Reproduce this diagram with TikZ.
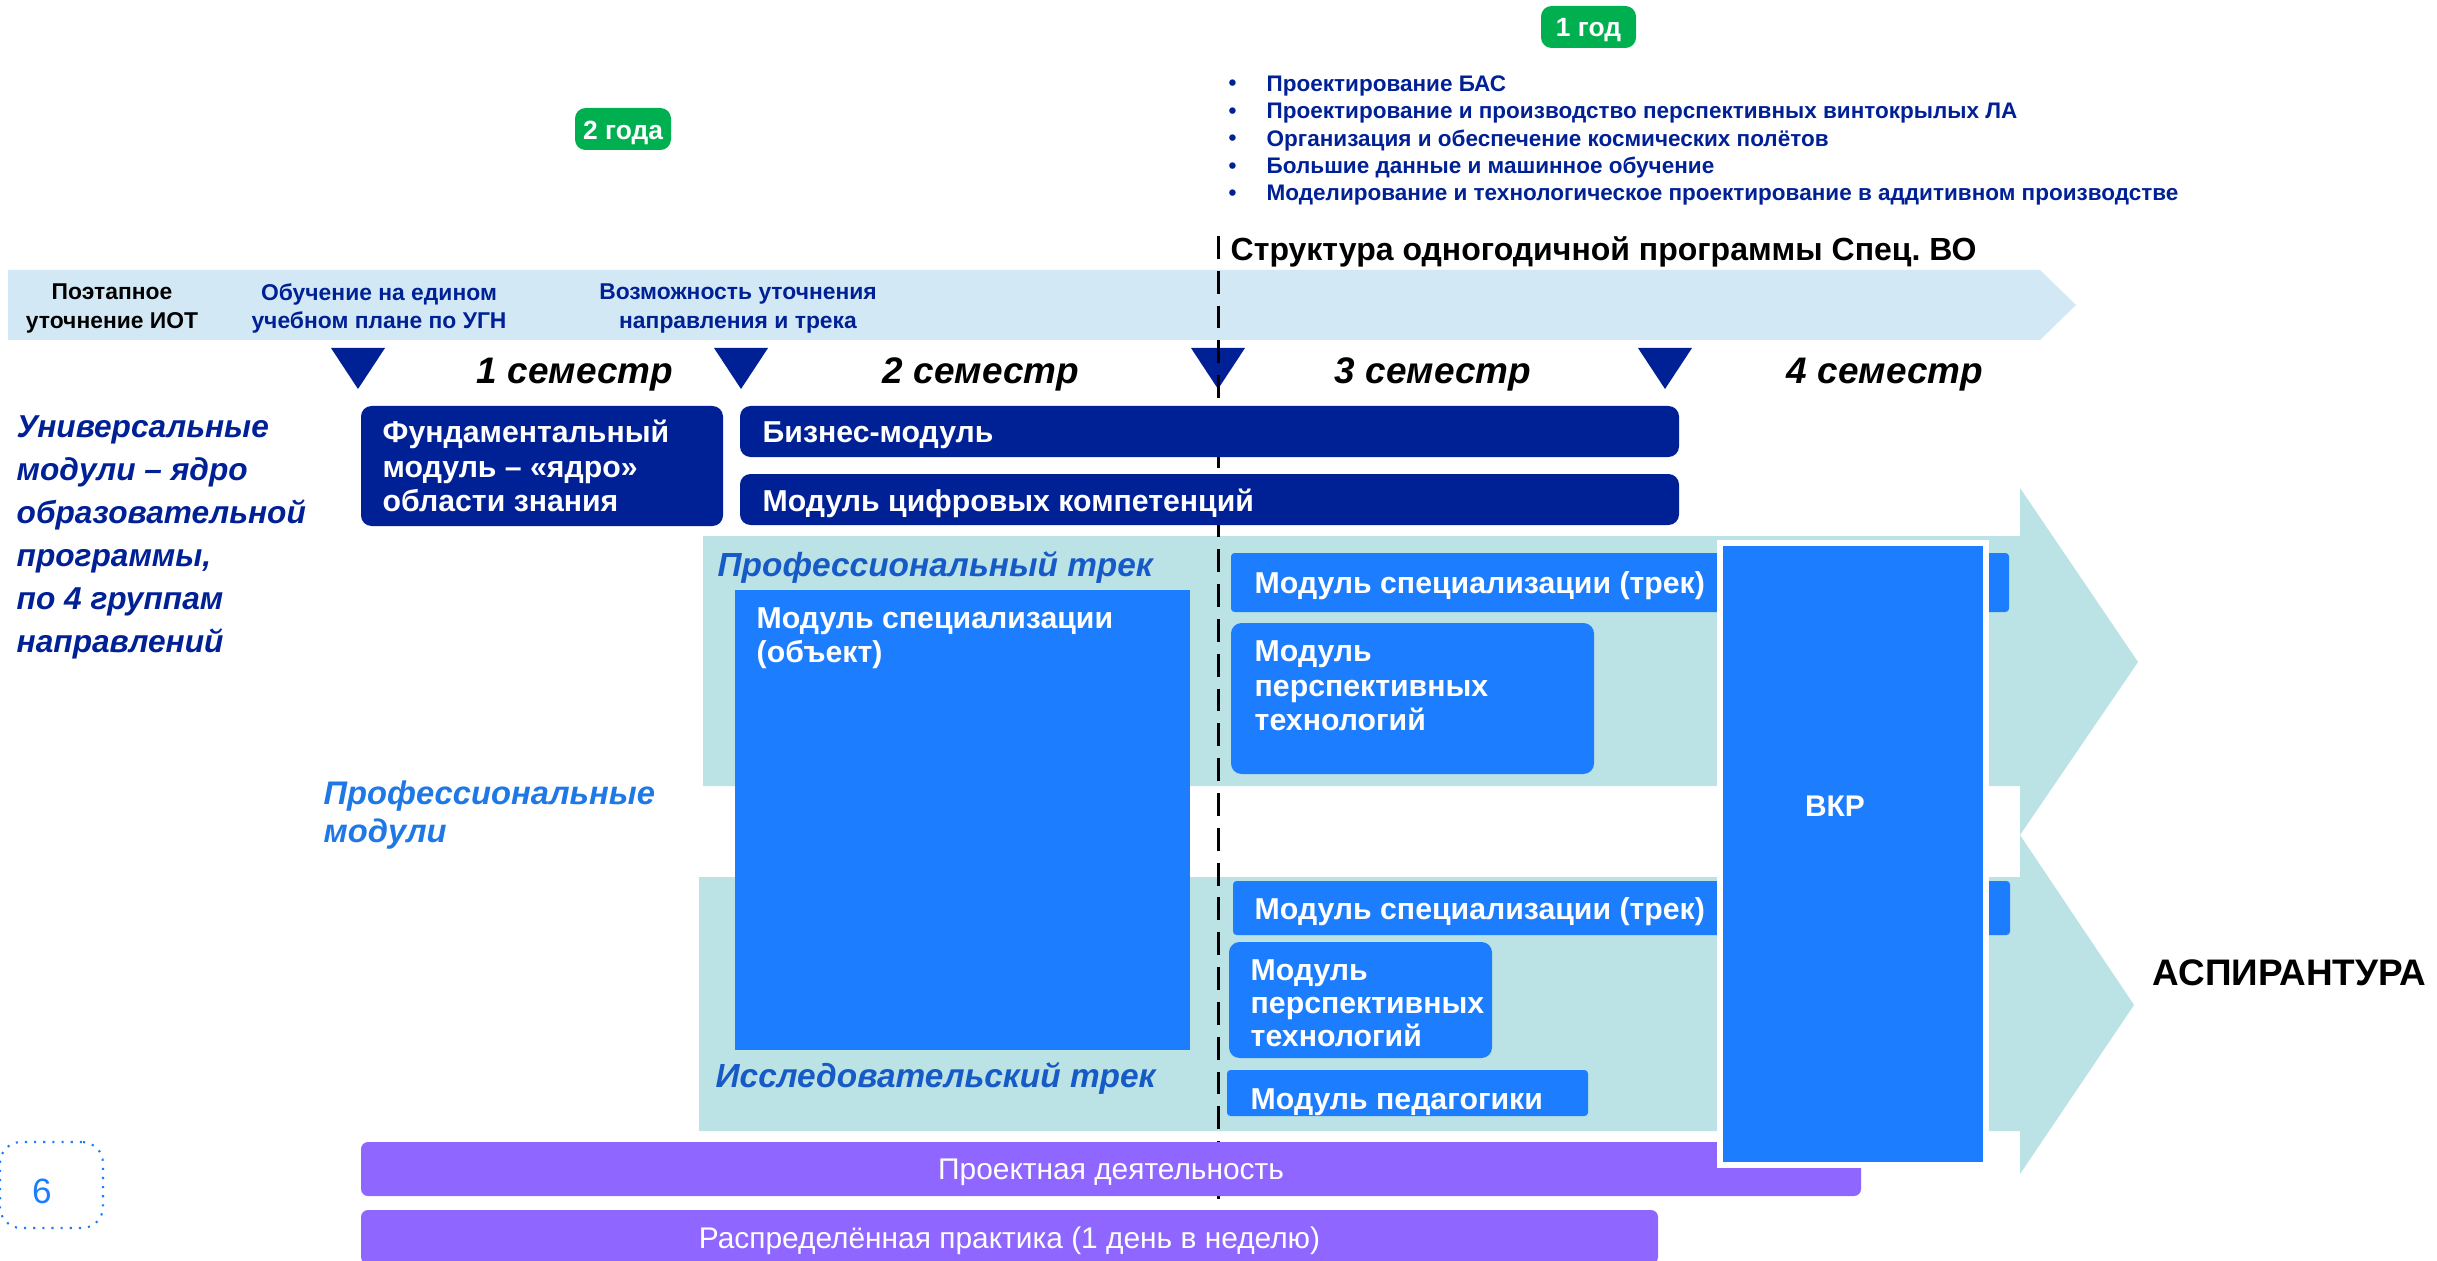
\documentclass[tikz,border=0pt]{standalone}
\usepackage{fontspec}
\setmainfont{Liberation Sans}
\usetikzlibrary{fit}

\definecolor{navy}{RGB}{0,32,150}
\definecolor{brightblue}{RGB}{28,126,255}
\definecolor{tealbg}{RGB}{187,226,229}
\definecolor{bandblue}{RGB}{210,233,245}
\definecolor{badgegreen}{RGB}{0,176,80}
\definecolor{prjpurple}{RGB}{143,102,255}
\definecolor{trackblue}{RGB}{22,90,200}
\definecolor{modblue}{RGB}{30,120,230}

\tikzset{
  navybox/.style={fill=navy, rounded corners=3pt, inner sep=0pt},
  bluebox/.style={fill=brightblue, rounded corners=1pt, inner sep=0pt},
  txt/.style={inner sep=0pt, yshift=-1pt},
  modtext/.style={txt, text=white, font=\bfseries\fontsize{8.6}{9.8}\selectfont, align=left, anchor=west},
  modlines/.style={modtext, yshift=1pt},
  badge/.style={fill=badgegreen, rounded corners=3pt, inner sep=0pt},
  badgetext/.style={txt, text=white, font=\bfseries\fontsize{7.5}{9}\selectfont},
  bandtext/.style={txt, font=\bfseries\fontsize{6.5}{8}\selectfont, align=center},
  semtext/.style={txt, font=\bfseries\itshape\fontsize{10.5}{12}\selectfont},
  tracktext/.style={txt, text=trackblue, font=\bfseries\itshape\fontsize{9.5}{11}\selectfont, anchor=west},
  bulltext/.style={txt, text=navy, font=\bfseries\fontsize{6.4}{7.5}\selectfont, anchor=west},
  prjbox/.style={fill=prjpurple, rounded corners=2pt, inner sep=0pt},
  prjtext/.style={txt, text=white, font=\fontsize{8.5}{10}\selectfont},
}

\begin{document}
\begin{tikzpicture}[x=0.01cm,y=-0.01cm]
	\useasboundingbox (0,0) rectangle (2437,1261);
	\fill[white] (0,0) rectangle (2437,1261);
	
	% draw green year badges
	\node (year1) [badge, fit={(1541,6) (1636,48)}] {};
	\node (year1txt) [badgetext] at (year1.center) {1~год};
	\node (year2) [badge, fit={(575,108) (671,150)}] {};
	\node (year2txt) [badgetext] at (year2.center) {2~года};
	
	% draw list of tracks
	\foreach \t [count=\i] in {Проектирование БАС,
		Проектирование и производство перспективных винтокрылых ЛА,
		Организация и обеспечение космических полётов,
		Большие данные и машинное обучение,
		Моделирование и технологическое проектирование в аддитивном производстве}
	{
		\node (dot\i) [bulltext] at (1228,{82+27.5*(\i-1)}) {\textbullet};
		\node (bul\i) [bulltext] at (1266,{82+27.5*(\i-1)}) {\t};
	}
	
	\node (struct) [txt, font=\bfseries\fontsize{9.1}{11}\selectfont, anchor=west] at (1230,248) {Структура одногодичной программы Спец.~ВО};
	
	% draw light blue band with arrow tip
	\fill[bandblue] (8,270) -- (2040,270) -- (2076,305) -- (2040,340) -- (8,340) -- cycle;
	\node (iot) [bandtext] at (112,305) {Поэтапное\\уточнение ИОТ};
	\node (ugn) [bandtext, text=navy] at (379,305) {Обучение на едином\\учебном плане по УГН};
	\node (refine) [bandtext, text=navy] at (738,305) {Возможность уточнения\\направления и трека};
	
	% draw triangles between semesters
	\foreach \x in {358,741,1218,1665}
	{
		\fill[navy] (\x-27,348) -- (\x+27,348) -- (\x,389) -- cycle;
	}
	
	% draw semester labels
	\foreach \x/\n in {575/1,981/2,1433/3,1885/4}
	{
		\node (sem\n) [semtext] at (\x,371) {\n~семестр};
	}
	
	% draw teal arrows for the two tracks
	\fill[tealbg] (703,536) -- (2020,536) -- (2020,488) -- (2138,662) -- (2020,835) -- (2020,786) -- (703,786) -- cycle;
	\fill[tealbg] (699,877) -- (2020,877) -- (2020,835) -- (2134,1005) -- (2020,1174) -- (2020,1131) -- (699,1131) -- cycle;
	
	% draw dashed line between years
	\coordinate (divtop) at (1218,236);
	\coordinate (divbot) at (1218,1210);
	\draw[black, line width=0.85pt, dash pattern=on 6.5pt off 3.4pt] (divtop) -- (divbot);
	
	% draw left texts
	\node (univ) [txt, font=\bfseries\itshape\fontsize{9}{12.2}\selectfont, text=navy, align=left, anchor=west] at (16,534) {Универсальные\\модули – ядро\\образовательной\\программы,\\по 4 группам\\направлений};
	\node (prof) [txt, font=\bfseries\itshape\fontsize{9.3}{10.8}\selectfont, text=modblue, align=left, anchor=west] at (323,812) {Профессиональные\\модули};
	
	% draw universal modules
	\node (fund) [navybox, fit={(361,406) (723,526)}] {};
	\node (fundtxt) [modlines] at (382,466) {Фундаментальный\\модуль – «ядро»\\области знания};
	\node (biz) [navybox, fit={(740,406) (1679,457)}] {};
	\node (biztxt) [modtext] at (762,432) {Бизнес-модуль};
	\node (dig) [navybox, fit={(740,474) (1679,525)}] {};
	\node (digtxt) [modtext] at (762,500) {Модуль цифровых компетенций};
	
	% draw track labels
	\node (proftrack) [tracktext] at (717,564) {Профессиональный трек};
	\node (restrack) [tracktext] at (715,1075) {Исследовательский трек};
	
	% draw professional modules
	\node (specobj) [bluebox, rounded corners=0pt, fit={(735,590) (1190,1050)}] {};
	\node (specobjtxt) [modlines] at (756,638) {Модуль специализации\\(объект)};
	\node (spec1) [bluebox, fit={(1231,553) (2009,612)}] {};
	\node (spec1txt) [modtext] at (1254,582) {Модуль специализации (трек)};
	\node (tech1) [bluebox, rounded corners=3pt, fit={(1231,623) (1594,774)}] {};
	\node (tech1txt) [modlines] at (1254,686) {Модуль\\перспективных\\технологий};
	\node (spec2) [bluebox, fit={(1233,881) (2010,935)}] {};
	\node (spec2txt) [modtext] at (1254,908) {Модуль специализации (трек)};
	\node (tech2) [bluebox, rounded corners=3pt, fit={(1229,942) (1492,1058)}] {};
	\node (tech2txt) [modlines, font=\bfseries\fontsize{8.6}{9.4}\selectfont] at (1250,1003) {Модуль\\перспективных\\технологий};
	\node (ped) [bluebox, fit={(1227,1070) (1588,1116)}] {};
	\node (pedtxt) [modtext] at (1250,1099) {Модуль педагогики};
	
	% draw project and practice bars
	\node (prj) [prjbox, fit={(361,1142) (1861,1196)}] {};
	\node (prjtxt) [prjtext] at (prj.center) {Проектная деятельность};
	\node (prac) [prjbox, fit={(361,1210) (1658,1264)}] {};
	\node (practxt) [prjtext] at (prac.center) {Распределённая практика (1~день в~неделю)};
	
	% draw final qualification work
	\node (vkr) [bluebox, rounded corners=0pt, draw=white, line width=1.7pt, fit={(1720,543) (1986,1165)}] {};
	\node (vkrtxt) [txt, text=white, font=\bfseries\fontsize{8.5}{10}\selectfont] at (1835,803) {ВКР};
	
	\node (asp) [txt, font=\bfseries\fontsize{10.5}{12}\selectfont, anchor=west] at (2152,969) {АСПИРАНТУРА};
	
	% draw page number
	\node (pgbox) [draw=brightblue, dotted, line width=0.6pt, rounded corners=6pt, fit={(0,1142) (103,1228)}, inner sep=0pt] {};
	\node (pgnum) [txt, text=brightblue, font=\fontsize{10}{12}\selectfont] at (42,1188) {6};
\end{tikzpicture}
\end{document}
